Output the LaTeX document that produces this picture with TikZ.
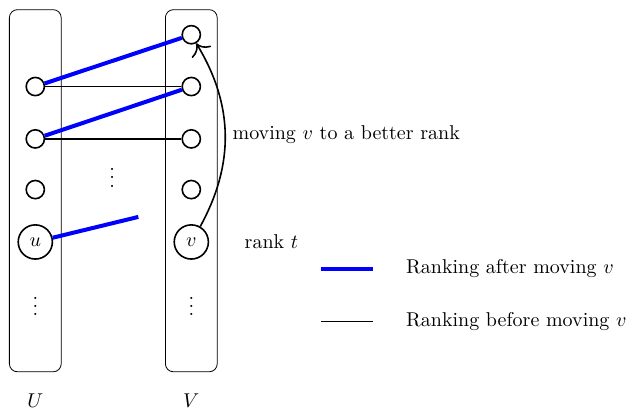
\documentclass[tikz,border=0pt]{standalone}
\usetikzlibrary{arrows.meta,positioning}

\begin{document}
\begin{tikzpicture}[
  >={To[scale=1.6]},
  vertex/.style={circle, draw, thick, inner sep=0pt, minimum size=0.32cm},
  named/.style={vertex, minimum size=0.6cm},
  side/.style={draw, rounded corners=4pt, minimum width=0.91cm,
               minimum height=6.36cm},
  after/.style={draw=blue, line width=2pt},
  before/.style={draw=black, thick}
]
\useasboundingbox (0,0) rectangle (11.03,7.20);

% The two sides of the bipartite graph.
\node[side] (boxU) at (0.62,3.85) {};
\node[side] (boxV) at (3.36,3.85) {};
\node[below=0.25cm of boxU] (labU) {$U$};
\node[below=0.25cm of boxV] (labV) {$V$};

% Vertices in U.
\node[vertex] (l1) at (0.62,5.68) {};
\node[vertex] (l2) at (0.62,4.76) {};
\node[vertex] (l3) at (0.62,3.87) {};
\node[named] (u) at (0.62,2.95) {$u$};
\node (ldots) at (0.62,1.93) {$\vdots$};

% Vertices in V, ordered by rank.
\node[vertex] (r0) at (3.36,6.59) {};
\node[vertex] (r1) at (3.36,5.68) {};
\node[vertex] (r2) at (3.36,4.76) {};
\node[vertex] (r3) at (3.36,3.87) {};
\node[named] (v) at (3.36,2.95) {$v$};
\node (rdots) at (3.36,1.93) {$\vdots$};
\node (mdots) at (1.97,4.18) {$\vdots$};
\coordinate (loose) at (2.43,3.39);

% Matchings before and after the move.
\draw[before] (l1) -- (r1);
\draw[before] (l2) -- (r2);
\draw[after] (l1) -- (r0);
\draw[after] (l2) -- (r1);
\draw[after] (u) -- (loose);

% The move of v.
\draw[->, thick] (v) to[bend right=30]
  node[right] {moving $v$ to a better rank} (r0);
\node[right=0.5cm of v] (rank) {rank $t$};

% Legend.
\coordinate (keyA1) at (5.64,2.48);
\coordinate (keyA2) at (6.55,2.48);
\coordinate (keyB1) at (5.64,1.55);
\coordinate (keyB2) at (6.55,1.55);
\draw[after] (keyA1) -- (keyA2);
\draw[before] (keyB1) -- (keyB2);
\node[right=0.46cm of keyA2] (keyAtext) {Ranking after moving $v$};
\node[right=0.46cm of keyB2] (keyBtext) {Ranking before moving $v$};

\end{tikzpicture}
\end{document}
